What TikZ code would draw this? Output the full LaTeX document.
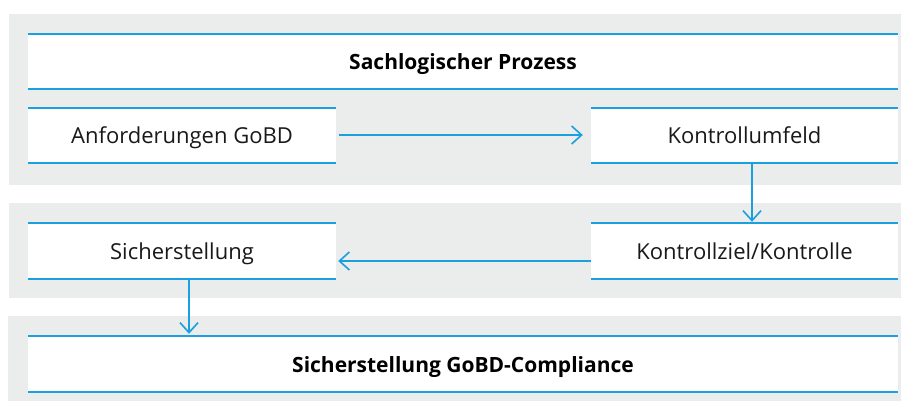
\documentclass[tikz,border=0pt]{standalone}
\usepackage{fontspec}
\setmainfont{Open Sans}
\usetikzlibrary{arrows.meta}
\definecolor{bandgray}{HTML}{EBECEC}
\definecolor{lineblue}{HTML}{1AA0DE}
\begin{document}
\begin{tikzpicture}[x=1pt,y=-1pt,
  band/.style={fill=bandgray,draw=none},
  boxfill/.style={fill=white,draw=none},
  topline/.style={draw=lineblue,line width=2.2pt},
  botline/.style={draw=lineblue,line width=1.3pt},
  lbl/.style={font=\fontsize{22}{26}\selectfont,text=black!90,inner sep=0pt,anchor=base},
  blbl/.style={font=\fontsize{21}{25}\selectfont\bfseries,text=black,inner sep=0pt,anchor=base},
  conn/.style={draw=lineblue,line width=1.6pt,-{Straight Barb[length=10pt,width=18pt,line width=1.6pt]}}
]
\useasboundingbox (0,0) rectangle (901,401);
\fill[white] (0,0) rectangle (901,401);
% bands
\fill[band] (9,14) rectangle (901,185);
\fill[band] (9,203) rectangle (901,298);
\fill[band] (8,316) rectangle (901,401);
% boxes
\newcommand{\mybox}[5]{%
  \fill[boxfill] (#1,#2) rectangle (#3,#4);
  \draw[topline] (#1,#2) -- (#3,#2);
  \draw[botline] (#1,#4) -- (#3,#4);
  \node[inner sep=0pt,minimum width={#3-#1},minimum height={#4-#2}] (#5) at ({(#1+#3)/2},{(#2+#4)/2}) {};
}
\mybox{28}{34}{898}{89}{sach}
\mybox{28}{108}{336}{163}{anf}
\mybox{591}{108}{898}{163}{kum}
\mybox{28}{223}{336}{279}{sich}
\mybox{591}{223}{898}{279}{kzk}
\mybox{28}{336}{898}{392}{comp}
% labels
\node[blbl] at ([yshift=-8.5pt]sach.center) {Sachlogischer Prozess};
\node[lbl] at ([yshift=-8pt]anf.center) {Anforderungen GoBD};
\node[lbl] at ([yshift=-8pt]kum.center) {Kontrollumfeld};
\node[lbl] at ([yshift=-8pt]sich.center) {Sicherstellung};
\node[lbl] at ([yshift=-8pt]kzk.center) {Kontrollziel/Kontrolle};
\node[blbl] at ([yshift=-8.5pt]comp.center) {Sicherstellung GoBD-Compliance};
% connectors
\coordinate (a1s) at (anf.east |- 0,135);
\coordinate (a1e) at (kum.west |- 0,135);
\draw[conn,shorten <=3pt,shorten >=8pt] (a1s) -- (a1e);
\coordinate (a2s) at (kum.south -| 752,0);
\coordinate (a2e) at (kzk.north -| 752,0);
\draw[conn,shorten >=1pt] (a2s) -- (a2e);
\coordinate (a3s) at (kzk.west |- 0,261);
\coordinate (a3e) at (sich.east |- 0,261);
\draw[conn,shorten >=2pt] (a3s) -- (a3e);
\coordinate (a4s) at (sich.south -| 189,0);
\coordinate (a4e) at (comp.north -| 189,0);
\draw[conn,shorten >=2pt] (a4s) -- (a4e);
\end{tikzpicture}
\end{document}
